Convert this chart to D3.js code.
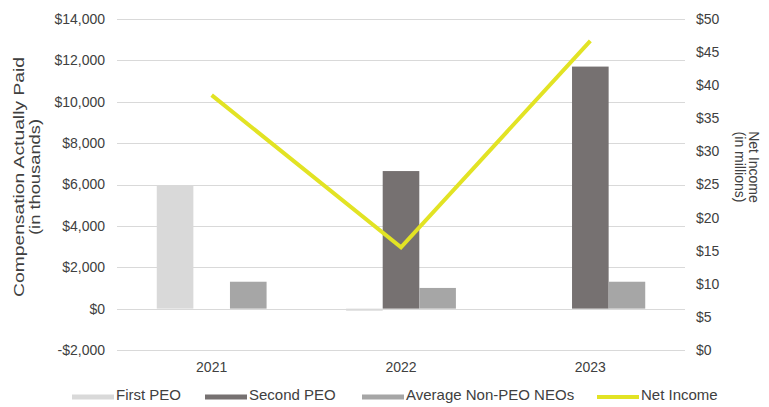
<!DOCTYPE html>
<html>
<head>
<meta charset="utf-8">
<script src="https://cdn.jsdelivr.net/npm/d3@7"></script>
<style>
  html, body { margin: 0; padding: 0; background: #fff; }
  svg { display: block; font-family: "Liberation Sans", Arial, sans-serif; }
</style>
</head>
<body>
<svg id="chart" width="769" height="407"></svg>
<script>
// Fiscal years on the x axis
const years = ["2021", "2022", "2023"];

// Compensation actually paid, in thousands of dollars
const firstPEO = [5950, -100, 0];
const secondPEO = [0, 6650, 11700];
const avgNonPEO = [1300, 1000, 1300];

// Net income, in millions of dollars
const netIncome = [38.5, 15.5, 46.7];

// Axis tick values
const leftTicks = [-2000, 0, 2000, 4000, 6000, 8000, 10000, 12000, 14000];
const rightTicks = [0, 5, 10, 15, 20, 25, 30, 35, 40, 45, 50];

const seriesNames = ["First PEO", "Second PEO", "Average Non-PEO NEOs"];
const seriesValues = [firstPEO, secondPEO, avgNonPEO];
const colors = ["#d9d9d9", "#767171", "#a6a6a6"];
const lineColor = "#e2e324";

const svg = d3.select("#chart");
const plot = { left: 117, right: 685, top: 19, bottom: 350 };

const x = d3.scaleBand().domain(years).range([plot.left, plot.right]);
const xSeries = d3.scaleBand().domain(seriesNames)
  .range([0, x.bandwidth() * 0.58]).padding(0);
const groupOffset = (x.bandwidth() - xSeries.range()[1]) / 2;

const yLeft = d3.scaleLinear().domain([-2000, 14000]).range([plot.bottom, plot.top]);
const yRight = d3.scaleLinear().domain([0, 50]).range([plot.bottom, plot.top]);

const textColor = "#404040";
const fontFamily = "Liberation Sans, Arial, sans-serif";

// Gridlines
svg.append("g")
  .selectAll("line")
  .data(leftTicks)
  .join("line")
  .attr("x1", plot.left).attr("x2", plot.right)
  .attr("y1", d => Math.round(yLeft(d)) + 0.5)
  .attr("y2", d => Math.round(yLeft(d)) + 0.5)
  .attr("stroke", "#d9d9d9").attr("stroke-width", 1);

// Left axis
const leftAxis = svg.append("g")
  .attr("transform", `translate(${plot.left},0)`)
  .call(d3.axisLeft(yLeft).tickValues(leftTicks).tickSize(0).tickPadding(12)
    .tickFormat(d => (d < 0 ? "-$" : "$") + d3.format(",")(Math.abs(d))));
leftAxis.select(".domain").remove();
leftAxis.selectAll("text").attr("font-size", 14).attr("fill", textColor)
  .attr("font-family", fontFamily);

// Right axis
const rightAxis = svg.append("g")
  .attr("transform", `translate(${plot.right},0)`)
  .call(d3.axisRight(yRight).tickValues(rightTicks).tickSize(0).tickPadding(11)
    .tickFormat(d => "$" + d));
rightAxis.select(".domain").remove();
rightAxis.selectAll("text").attr("font-size", 14).attr("fill", textColor)
  .attr("font-family", fontFamily);

// Category axis
const bottomAxis = svg.append("g")
  .attr("transform", `translate(0,${plot.bottom})`)
  .call(d3.axisBottom(x).tickSize(0).tickPadding(12));
bottomAxis.select(".domain").remove();
bottomAxis.selectAll("text").attr("font-size", 14).attr("fill", textColor)
  .attr("font-family", fontFamily);

// Clustered bars
seriesValues.forEach((vals, si) => {
  svg.append("g")
    .selectAll("rect")
    .data(vals.map((v, i) => ({ year: years[i], v })))
    .join("rect")
    .attr("x", d => x(d.year) + groupOffset + xSeries(seriesNames[si]))
    .attr("width", xSeries.bandwidth())
    .attr("y", d => Math.min(yLeft(d.v), yLeft(0)))
    .attr("height", d => Math.abs(yLeft(d.v) - yLeft(0)))
    .attr("fill", colors[si]);
});

// Net income line
const line = d3.line()
  .x((d, i) => x(years[i]) + x.bandwidth() / 2)
  .y(d => yRight(d));
svg.append("path")
  .datum(netIncome)
  .attr("d", line)
  .attr("fill", "none")
  .attr("stroke", lineColor)
  .attr("stroke-width", 4)
  .attr("stroke-linejoin", "miter");

// Axis titles
const leftTitle = svg.append("g").attr("transform", "translate(0,177) rotate(-90)");
leftTitle.append("text")
  .attr("x", 0).attr("y", 24)
  .attr("text-anchor", "middle")
  .attr("font-size", 15).attr("fill", textColor)
  .attr("textLength", 240).attr("lengthAdjust", "spacingAndGlyphs")
  .text("Compensation Actually Paid");
leftTitle.append("text")
  .attr("x", 0).attr("y", 40)
  .attr("text-anchor", "middle")
  .attr("font-size", 15).attr("fill", textColor)
  .attr("textLength", 116).attr("lengthAdjust", "spacingAndGlyphs")
  .text("(in thousands)");

const rightTitle = svg.append("text")
  .attr("transform", "translate(749,167) rotate(90)")
  .attr("text-anchor", "middle")
  .attr("font-size", 14).attr("fill", textColor);
rightTitle.append("tspan").attr("x", 0).attr("dy", 0).text("Net Income");
rightTitle.append("tspan").attr("x", 0).attr("dy", 14).text("(in millions)");

// Legend
const legendItems = [
  { name: "First PEO", color: colors[0], type: "bar", x: 72 },
  { name: "Second PEO", color: colors[1], type: "bar", x: 205 },
  { name: "Average Non-PEO NEOs", color: colors[2], type: "bar", x: 362 },
  { name: "Net Income", color: lineColor, type: "line", x: 597 }
];
const legendY = 397;
const legend = svg.append("g");
legendItems.forEach(it => {
  if (it.type === "bar") {
    legend.append("rect")
      .attr("x", it.x).attr("y", legendY - 2.5)
      .attr("width", 42).attr("height", 5)
      .attr("fill", it.color);
  } else {
    legend.append("line")
      .attr("x1", it.x).attr("x2", it.x + 42)
      .attr("y1", legendY).attr("y2", legendY)
      .attr("stroke", it.color).attr("stroke-width", 4);
  }
  legend.append("text")
    .attr("x", it.x + 44)
    .attr("y", legendY + 3)
    .attr("font-size", 15).attr("fill", textColor)
    .text(it.name);
});
</script>
</body>
</html>
